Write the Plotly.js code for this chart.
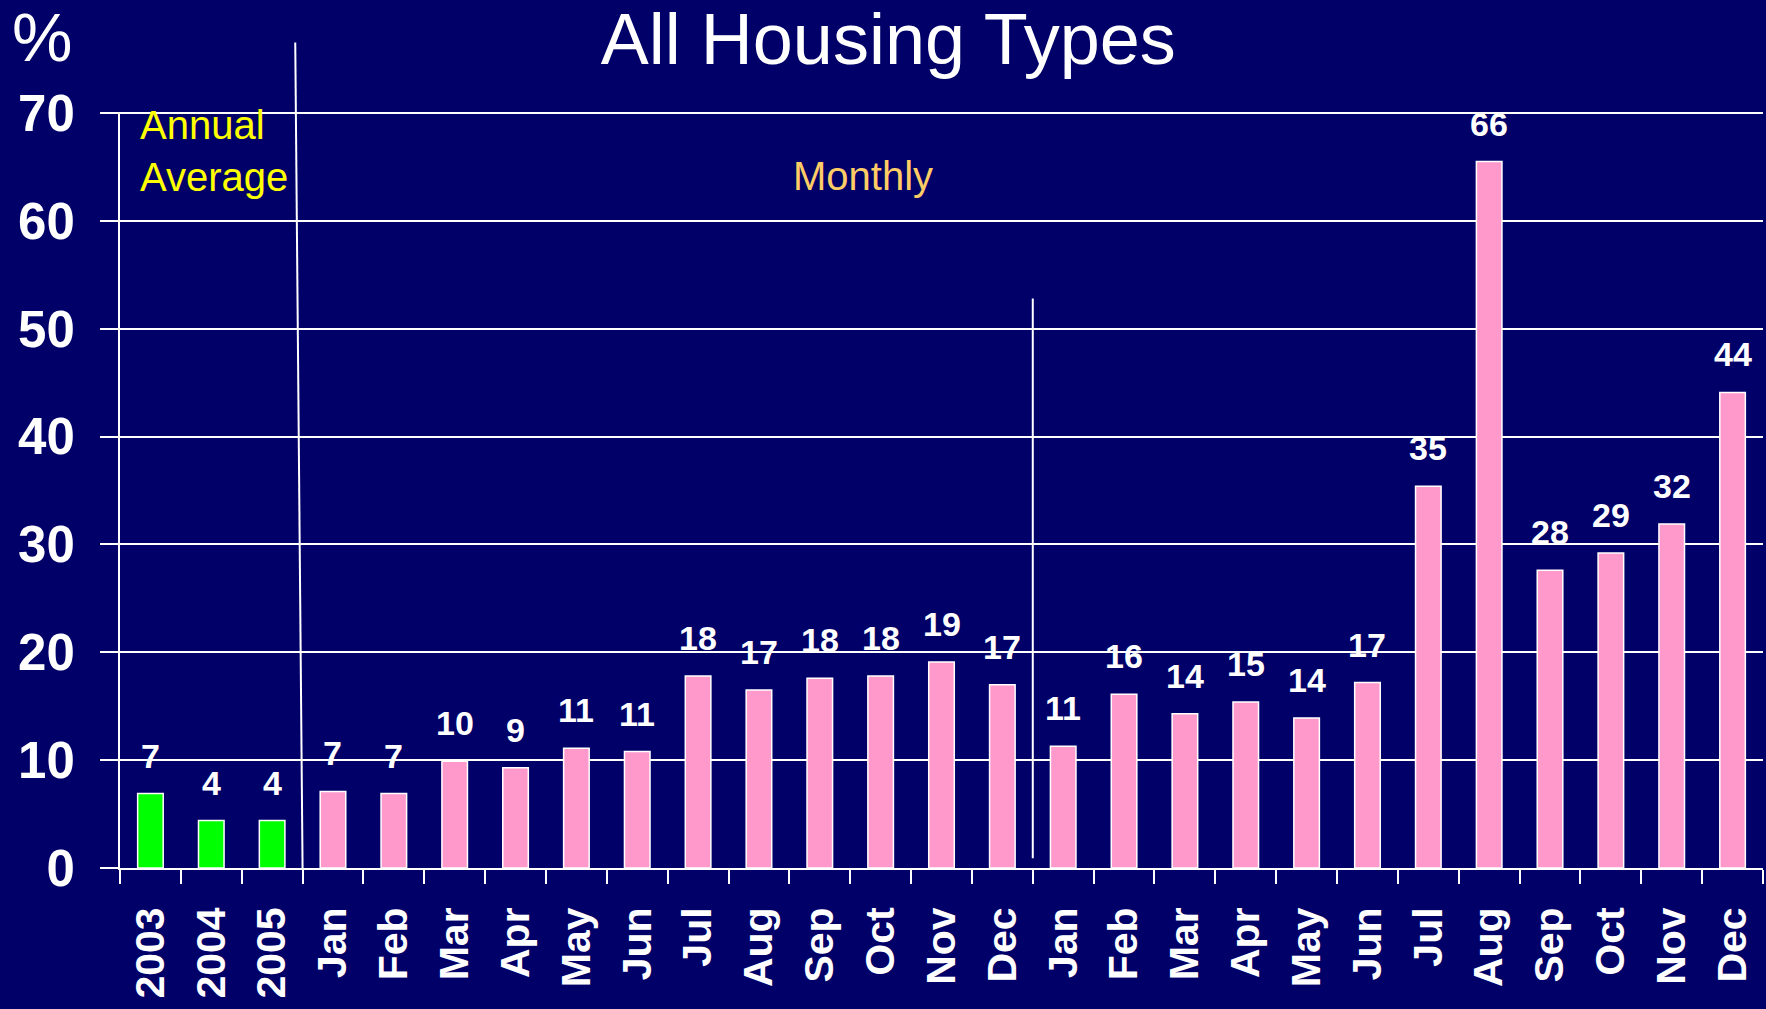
<!DOCTYPE html>
<html>
<head>
<meta charset="utf-8">
<script src="https://cdn.plot.ly/plotly-3.0.1.min.js"></script>
<style>html,body{margin:0;padding:0;background:#000068;}#chart{width:1766px;height:1009px;}</style>
</head>
<body>
<div id="chart"></div>
<script>
// ---- data ----
const tickLabels = ["2003","2004","2005","Jan","Feb","Mar","Apr","May","Jun","Jul","Aug","Sep","Oct","Nov","Dec",
                    "Jan","Feb","Mar","Apr","May","Jun","Jul","Aug","Sep","Oct","Nov","Dec"];
const values = [6.9,4.4,4.4, 7.1,6.9,9.9,9.3,11.1,10.8,17.8,16.5,17.6,17.8,19.1,17.0,
                11.3,16.1,14.3,15.4,13.9,17.2,35.4,65.5,27.6,29.2,31.9,44.1];
const valueLabels = ["7","4","4","7","7","10","9","11","11","18","17","18","18","19","17",
                     "11","16","14","15","14","17","35","66","28","29","32","44"];
const annualCount = 3;          // first three bars are annual averages
const yearBreakAfter = 14;      // index of last month of first monthly year
const yTicks = [0,10,20,30,40,50,60,70];

// ---- style ----
const BG = "#000068", PINK = "#FF99CC", GREEN = "#00FF00", WHITE = "#FFFFFF";
const FONT = "Liberation Sans, Arial, sans-serif";

const idx = tickLabels.map((_, i) => i);
const colors = idx.map(i => i < annualCount ? GREEN : PINK);

const trace = {
  type: "bar",
  x: idx,
  y: values,
  width: 0.42,
  marker: {color: colors, line: {color: WHITE, width: 1.5}},
  hoverinfo: "skip"
};

const valueAnnotations = idx.map(i => ({
  x: i, y: values[i], xref: "x", yref: "y",
  text: valueLabels[i], showarrow: false,
  xanchor: "center", yanchor: "bottom", yshift: 17,
  font: {family: FONT, size: 34, color: WHITE, weight: "bold"}
}));

const layout = {
  width: 1766, height: 1009,
  paper_bgcolor: BG, plot_bgcolor: BG,
  margin: {l: 120, r: 3, t: 112, b: 141, pad: 0},
  showlegend: false,
  bargap: 0.58,
  title: {
    text: "All Housing Types",
    font: {family: FONT, size: 72, color: WHITE},
    xref: "container", x: 0.503, xanchor: "center",
    yref: "container", y: 0.962, yanchor: "middle"
  },
  xaxis: {
    range: [-0.5, tickLabels.length - 0.5],
    tickmode: "array", tickvals: idx, ticktext: tickLabels,
    tickangle: -90,
    ticks: "", ticklabelstandoff: 21,
    tickfont: {family: FONT, size: 41, color: WHITE, weight: "bold"},
    minor: {tickmode: "linear", tick0: -0.5, dtick: 1, ticks: "outside", ticklen: 14, tickwidth: 2, tickcolor: WHITE, showgrid: false},
    showline: true, linecolor: WHITE, linewidth: 2,
    showgrid: false, zeroline: false, fixedrange: true
  },
  yaxis: {
    range: [0, 70.1],
    tickmode: "array", tickvals: yTicks, ticktext: yTicks.map(String),
    ticks: "outside", ticklen: 18, tickwidth: 2, tickcolor: WHITE,
    ticklabelstandoff: 15,
    tickfont: {family: FONT, size: 51, color: WHITE, weight: "bold"},
    showline: true, linecolor: WHITE, linewidth: 2,
    showgrid: true, gridcolor: WHITE, gridwidth: 2,
    zeroline: false, fixedrange: true
  },
  shapes: [
    {type: "line", xref: "x", yref: "paper", x0: annualCount - 0.62, y0: 1.092, x1: annualCount - 0.5, y1: 0,
     line: {color: WHITE, width: 2}},
    {type: "line", xref: "x", yref: "y", x0: yearBreakAfter + 0.5, y0: 52.8, x1: yearBreakAfter + 0.5, y1: 0.9,
     line: {color: WHITE, width: 2}}
  ],
  annotations: valueAnnotations.concat([
    {xref: "paper", yref: "paper", x: 0.0107, y: 1.014, xanchor: "left", yanchor: "top",
     text: "Annual<br>Average", showarrow: false, align: "left",
     font: {family: FONT, size: 40, color: "#FFFF00"}},
    {xref: "paper", yref: "paper", x: 0.452, y: 0.915, xanchor: "center", yanchor: "middle",
     text: "Monthly", showarrow: false,
     font: {family: FONT, size: 40, color: "#FFCC66"}},
    {xref: "paper", yref: "paper", x: -0.067, y: 1.099, xanchor: "left", yanchor: "middle",
     text: "%", showarrow: false,
     font: {family: FONT, size: 68, color: WHITE}}
  ])
};

Plotly.newPlot("chart", [trace], layout, {displayModeBar: false, staticPlot: true});
</script>
</body>
</html>
